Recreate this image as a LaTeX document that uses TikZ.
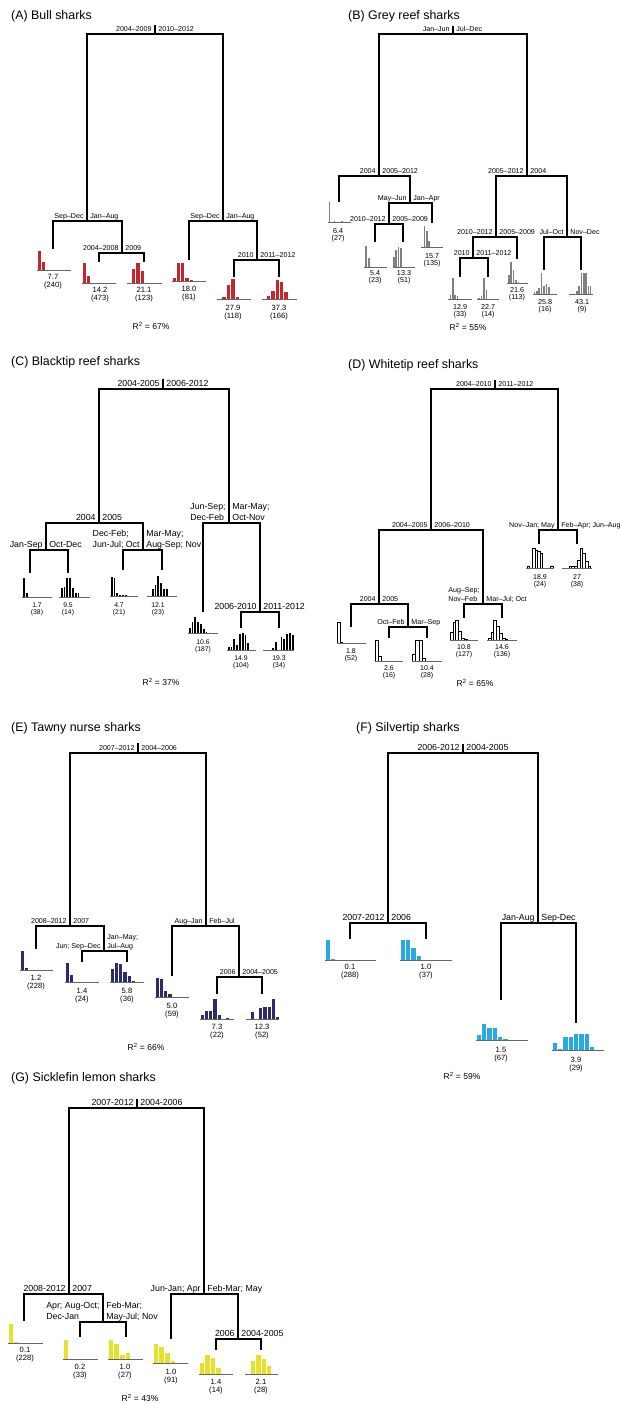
\documentclass[tikz,border=0pt]{standalone}
\usepackage{fontspec}
\setmainfont{Liberation Sans}

\definecolor{bullred}{HTML}{C1272D}
\definecolor{reefgrey}{HTML}{808080}
\definecolor{tawnyblue}{HTML}{2B2A6B}
\definecolor{silverblue}{HTML}{29A9E1}
\definecolor{lemonyellow}{HTML}{E8E12C}

\newcommand{\barfrac}{1}
% histogram: name, baseline left x, baseline y, baseline length, first bar x, bin width, heights
\newcommand{\hist}[7]{%
  \coordinate (#1) at (#2,#3);
  \foreach \h [count=\i from 0] in {#7}{%
    \ifdim\h pt>0pt
      \path[bar] ({#5+\i*#6},#3) rectangle ++({#6*\barfrac},-\h);
    \fi}
  \draw[base] (#1) -- ++(#4,0);
}

\begin{document}
\begin{tikzpicture}[x=1pt, y=-1pt,
    stem/.style={line width=2.5pt},
    lbl/.style={inner sep=0pt, text depth=0pt, align=left, font=\fontsize{7.1}{8.8}\selectfont},
    lbll/.style={lbl, anchor=south east, xshift=-3.2pt, yshift=2.4pt},
    lblr/.style={lbl, anchor=south west, xshift=3.2pt, yshift=2.4pt},
    num/.style={inner sep=0pt, anchor=north, align=center, font=\fontsize{7.6}{8}\selectfont},
    base/.style={line width=0.8pt, black!60},
    bar/.style={fill=black, draw=white, line width=0.4pt},
    title/.style={anchor=west, inner sep=0pt, font=\fontsize{12.4}{14}\selectfont},
    rsq/.style={inner sep=0pt, font=\fontsize{8.5}{10}\selectfont}]
\useasboundingbox (0,0) rectangle (620,1404);

% (A) Bull sharks
\begin{scope}[bar/.append style={fill=bullred}]
  \node[title] (a-title) at (11,16) {(A) Bull sharks};
  \coordinate (a-top) at (155,25);
  \coordinate (a-root) at (155,34);
  \coordinate (a-s1) at (87,221);
  \coordinate (a-s2) at (122,253);
  \coordinate (a-s3) at (223,221);
  \coordinate (a-s4) at (257,260);
  \coordinate (a-l1) at (53,249);
  \coordinate (a-l2) at (99,262);
  \coordinate (a-l3) at (144,262);
  \coordinate (a-l4) at (189,260);
  \coordinate (a-l5) at (234,277);
  \coordinate (a-l6) at (279,277);
  \draw[stem] (a-root) -- (a-top);
  \draw[stem] (a-s1) |- (a-root) -| (a-s3);
  \draw[stem] (a-l1) |- (a-s1) -| (a-s2);
  \draw[stem] (a-l2) |- (a-s2) -| (a-l3);
  \draw[stem] (a-l4) |- (a-s3) -| (a-s4);
  \draw[stem] (a-l5) |- (a-s4) -| (a-l6);
  \node[lbll] (a-t0l) at (a-root) {2004--2009};
  \node[lblr] (a-t0r) at (a-root) {2010--2012};
  \node[lbll] (a-t1l) at (a-s1) {Sep--Dec};
  \node[lblr] (a-t1r) at (a-s1) {Jan--Aug};
  \node[lbll] (a-t2l) at (a-s2) {2004--2008};
  \node[lblr] (a-t2r) at (a-s2) {2009};
  \node[lbll] (a-t3l) at (a-s3) {Sep--Dec};
  \node[lblr] (a-t3r) at (a-s3) {Jan--Aug};
  \node[lbll] (a-t4l) at (a-s4) {2010};
  \node[lblr] (a-t4r) at (a-s4) {2011--2012};
  \hist{a-h1}{37}{270}{34}{37}{4}{20,9}
  \hist{a-h2}{82}{283}{34}{82}{4}{21,8,1}
  \hist{a-h3}{127}{283}{35}{127}{4.3}{0,15,21,13}
  \hist{a-h4}{172}{281}{34}{172}{4.2}{4,19,19,4,2}
  \hist{a-h5}{217}{299}{34}{217}{4.5}{1,3,15,21,3,1}
  \hist{a-h6}{262}{299}{35}{262}{4.3}{0,4,9,20,18,8,1}
  \node[num] (a-n1) at (53,274) {7.7\\(240)};
  \node[num] (a-n2) at (100,287) {14.2\\(473)};
  \node[num] (a-n3) at (144,287) {21.1\\(123)};
  \node[num] (a-n4) at (189,286) {18.0\\(81)};
  \node[num] (a-n5) at (233,305) {27.9\\(118)};
  \node[num] (a-n6) at (279,305) {37.3\\(166)};
  \node[rsq] (a-r2) at (151,326) {R\textsuperscript{2} = 67\%};
\end{scope}

% (B) Grey reef sharks
\begin{scope}[bar/.style={fill=reefgrey}, num/.append style={font=\fontsize{7.2}{7.3}\selectfont}]
  \renewcommand{\barfrac}{0.7}
  \node[title] (b-title) at (348,16) {(B) Grey reef sharks};
  \coordinate (b-top) at (453,26);
  \coordinate (b-root) at (453,34);
  \coordinate (b-s1) at (379,176);
  \coordinate (b-s2) at (410,203);
  \coordinate (b-s3) at (389,224);
  \coordinate (b-s4) at (527,176);
  \coordinate (b-s5) at (496,237);
  \coordinate (b-s6) at (473,258);
  \coordinate (b-s7) at (567,237);
  \coordinate (b-l1) at (339,202);
  \coordinate (b-l2) at (375,242);
  \coordinate (b-l3) at (403,242);
  \coordinate (b-l4) at (432,223);
  \coordinate (b-l5) at (460,277);
  \coordinate (b-l6) at (488,277);
  \coordinate (b-l7) at (517,259);
  \coordinate (b-l8) at (544,270);
  \coordinate (b-l9) at (581,270);
  \draw[stem] (b-root) -- (b-top);
  \draw[stem] (b-s1) |- (b-root) -| (b-s4);
  \draw[stem] (b-l1) |- (b-s1) -| (b-s2);
  \draw[stem] (b-s3) |- (b-s2) -| (b-l4);
  \draw[stem] (b-l2) |- (b-s3) -| (b-l3);
  \draw[stem] (b-s5) |- (b-s4) -| (b-s7);
  \draw[stem] (b-s6) |- (b-s5) -| (b-l7);
  \draw[stem] (b-l5) |- (b-s6) -| (b-l6);
  \draw[stem] (b-l8) |- (b-s7) -| (b-l9);
  \node[lbll] (b-t0l) at (b-root) {Jan--Jun};
  \node[lblr] (b-t0r) at (b-root) {Jul--Dec};
  \node[lbll] (b-t1l) at (b-s1) {2004};
  \node[lblr] (b-t1r) at (b-s1) {2005--2012};
  \node[lbll] (b-t2l) at (b-s2) {May--Jun};
  \node[lblr] (b-t2r) at (b-s2) {Jan--Apr};
  \node[lbll] (b-t3l) at (b-s3) {2010--2012};
  \node[lblr] (b-t3r) at (b-s3) {2005--2009};
  \node[lbll] (b-t4l) at (b-s4) {2005--2012};
  \node[lblr] (b-t4r) at (b-s4) {2004};
  \node[lbll] (b-t5l) at (b-s5) {2010--2012};
  \node[lblr] (b-t5r) at (b-s5) {2005--2009};
  \node[lbll] (b-t6l) at (b-s6) {2010};
  \node[lblr] (b-t6r) at (b-s6) {2011--2012};
  \node[lbll] (b-t7l) at (b-s7) {Jul--Oct};
  \node[lblr] (b-t7r) at (b-s7) {Nov--Dec};
  \hist{b-h1}{328}{222}{23}{328.5}{2.5}{20,0,1,0,0,1}
  \hist{b-h2}{364}{267}{23}{364.5}{3}{21,9}
  \hist{b-h3}{393}{267}{22}{393}{2.4}{10,17,20,19}
  \hist{b-h4}{421}{247}{22}{423.5}{2.4}{21,16,6}
  \hist{b-h5}{448}{299}{24}{449.5}{2.4}{4,21,4,3}
  \hist{b-h6}{477}{299}{22}{478}{2.5}{1,3,21,9}
  \hist{b-h7}{507}{283}{21}{508}{2.4}{8,21,13,3,1}
  \hist{b-h8}{533}{294}{24}{533.5}{2.4}{2,3,6,21,8,10,7}
  \hist{b-h9}{569}{294}{24}{576}{2.3}{3,8,21,21,21,8,8}
  \node[num] (b-n1) at (338,228) {6.4\\(27)};
  \node[num] (b-n2) at (375,270) {5.4\\(23)};
  \node[num] (b-n3) at (404,270) {13.3\\(51)};
  \node[num] (b-n4) at (432,253) {15.7\\(135)};
  \node[num] (b-n5) at (460,304) {12.9\\(33)};
  \node[num] (b-n6) at (488,304) {22.7\\(14)};
  \node[num] (b-n7) at (517,287) {21.6\\(113)};
  \node[num] (b-n8) at (545,299) {25.8\\(16)};
  \node[num] (b-n9) at (582,299) {43.1\\(9)};
  \node[rsq] (b-r2) at (468,327) {R\textsuperscript{2} = 55\%};
\end{scope}

% (C) Blacktip reef sharks
\begin{scope}[lbl/.append style={font=\fontsize{8.8}{10.5}\selectfont},
    num/.append style={font=\fontsize{6.8}{6.6}\selectfont}]
  \node[title] (c-title) at (11,362) {(C) Blacktip reef sharks};
  \coordinate (c-top) at (163,379);
  \coordinate (c-root) at (163,389);
  \coordinate (c-s1) at (99,523);
  \coordinate (c-s2) at (46,550);
  \coordinate (c-s3) at (143,550);
  \coordinate (c-s4) at (229,523);
  \coordinate (c-s5) at (260,612);
  \coordinate (c-l1) at (30,573);
  \coordinate (c-l2) at (68,573);
  \coordinate (c-l3) at (123,570);
  \coordinate (c-l4) at (162,570);
  \coordinate (c-l5) at (203,612);
  \coordinate (c-l6) at (241,628);
  \coordinate (c-l7) at (279,628);
  \draw[stem] (c-root) -- (c-top);
  \draw[stem] (c-s1) |- (c-root) -| (c-s4);
  \draw[stem] (c-s2) |- (c-s1) -| (c-s3);
  \draw[stem] (c-l1) |- (c-s2) -| (c-l2);
  \draw[stem] (c-l3) |- (c-s3) -| (c-l4);
  \draw[stem] (c-l5) |- (c-s4) -| (c-s5);
  \draw[stem] (c-l6) |- (c-s5) -| (c-l7);
  \node[lbll] (c-t0l) at (c-root) {2004-2005};
  \node[lblr] (c-t0r) at (c-root) {2006-2012};
  \node[lbll] (c-t1l) at (c-s1) {2004};
  \node[lblr] (c-t1r) at (c-s1) {2005};
  \node[lbll] (c-t2l) at (c-s2) {Jan-Sep};
  \node[lblr] (c-t2r) at (c-s2) {Oct-Dec};
  \node[lbll] (c-t3l) at (c-s3) {Dec-Feb;\\Jun-Jul; Oct};
  \node[lblr] (c-t3r) at (c-s3) {Mar-May;\\Aug-Sep; Nov};
  \node[lbll] (c-t4l) at (c-s4) {Jun-Sep;\\Dec-Feb};
  \node[lblr] (c-t4r) at (c-s4) {Mar-May;\\Oct-Nov};
  \node[lbll] (c-t5l) at (c-s5) {2006-2010};
  \node[lblr] (c-t5r) at (c-s5) {2011-2012};
  \hist{c-h1}{22}{597}{30}{22}{3.3}{20,5}
  \hist{c-h2}{59}{597}{31}{60}{2.8}{10,11,20,20,10,5,5}
  \hist{c-h3}{110}{596}{28}{110}{2.8}{20,19,4,2,2,2}
  \hist{c-h4}{147}{596}{30}{151}{2.8}{8,12,21,14,8,8}
  \hist{c-h5}{188}{633}{30}{188}{2.8}{6,12,17,12,10,5,2,0,0,1,1}
  \hist{c-h6}{227}{650}{29}{227}{2.8}{4,4,12,6,17,18,16,8}
  \hist{c-h7}{263}{650}{31}{263}{2.8}{1,0,0,3,9,0,14,12,17,18,16}
  \node[num] (c-n1) at (37,603) {1.7\\(38)};
  \node[num] (c-n2) at (68,603) {9.5\\(14)};
  \node[num] (c-n3) at (119,603) {4.7\\(21)};
  \node[num] (c-n4) at (158,603) {12.1\\(23)};
  \node[num] (c-n5) at (203,640) {10.6\\(187)};
  \node[num] (c-n6) at (241,656) {14.9\\(104)};
  \node[num] (c-n7) at (279,656) {19.3\\(34)};
  \node[rsq] (c-r2) at (161,682) {R\textsuperscript{2} = 37\%};
\end{scope}

% (D) Whitetip reef sharks
\begin{scope}[bar/.style={fill=white, draw=black, line width=0.5pt},
    num/.append style={font=\fontsize{7}{7.4}\selectfont}]
  \node[title] (d-title) at (348,365) {(D) Whitetip reef sharks};
  \coordinate (d-top) at (495,380);
  \coordinate (d-root) at (495,389);
  \coordinate (d-s1) at (431,530);
  \coordinate (d-s2) at (379,604);
  \coordinate (d-s3) at (408,627);
  \coordinate (d-s4) at (483,604);
  \coordinate (d-s5) at (558,530);
  \coordinate (d-l1) at (351,627);
  \coordinate (d-l2) at (389,638);
  \coordinate (d-l3) at (427,638);
  \coordinate (d-l4) at (464,618);
  \coordinate (d-l5) at (502,618);
  \coordinate (d-l6) at (539,544);
  \coordinate (d-l7) at (577,544);
  \draw[stem] (d-root) -- (d-top);
  \draw[stem] (d-s1) |- (d-root) -| (d-s5);
  \draw[stem] (d-s2) |- (d-s1) -| (d-s4);
  \draw[stem] (d-l1) |- (d-s2) -| (d-s3);
  \draw[stem] (d-l2) |- (d-s3) -| (d-l3);
  \draw[stem] (d-l4) |- (d-s4) -| (d-l5);
  \draw[stem] (d-l6) |- (d-s5) -| (d-l7);
  \node[lbll] (d-t0l) at (d-root) {2004--2010};
  \node[lblr] (d-t0r) at (d-root) {2011--2012};
  \node[lbll] (d-t1l) at (d-s1) {2004--2005};
  \node[lblr] (d-t1r) at (d-s1) {2006--2010};
  \node[lbll] (d-t2l) at (d-s2) {2004};
  \node[lblr] (d-t2r) at (d-s2) {2005};
  \node[lbll] (d-t3l) at (d-s3) {Oct--Feb};
  \node[lblr] (d-t3r) at (d-s3) {Mar--Sep};
  \node[lbll] (d-t4l) at (d-s4) {Aug--Sep;\\Nov--Feb};
  \node[lblr] (d-t4r) at (d-s4) {Mar--Jul; Oct};
  \node[lbll] (d-t5l) at (d-s5) {Nov--Jan; May};
  \node[lblr] (d-t5r) at (d-s5) {Feb--Apr; Jun--Aug};
  \hist{d-h1}{337}{643}{29}{337}{2.8}{21,1}
  \hist{d-h2}{375}{661}{28}{375}{3.3}{21,5}
  \hist{d-h3}{412}{661}{30}{412}{3.4}{7,21,21,3}
  \hist{d-h4}{450}{640}{28}{450}{2.8}{8,18,20,9,2,1}
  \hist{d-h5}{487}{640}{30}{488}{2.8}{2,8,20,14,7,2,1}
  \hist{d-h6}{526}{568}{28}{527}{2.6}{2,0,20,18,17,15,0,0,0,2}
  \hist{d-h7}{562}{568}{30}{569}{2.7}{2,2,2,8,20,15,7,2}
  \node[num] (d-n1) at (351,648) {1.8\\(52)};
  \node[num] (d-n2) at (389,665) {2.6\\(16)};
  \node[num] (d-n3) at (427,665) {10.4\\(28)};
  \node[num] (d-n4) at (464,644) {10.8\\(127)};
  \node[num] (d-n5) at (502,644) {14.6\\(136)};
  \node[num] (d-n6) at (540,574) {18.9\\(24)};
  \node[num] (d-n7) at (577,574) {27\\(38)};
  \node[rsq] (d-r2) at (475,683) {R\textsuperscript{2} = 65\%};
\end{scope}

% (E) Tawny nurse sharks
\begin{scope}[bar/.append style={fill=tawnyblue}]
  \node[title] (e-title) at (11,728) {(E) Tawny nurse sharks};
  \coordinate (e-top) at (138,743);
  \coordinate (e-root) at (138,753);
  \coordinate (e-s1) at (70,926);
  \coordinate (e-s2) at (104,951);
  \coordinate (e-s3) at (206,926);
  \coordinate (e-s4) at (239,977);
  \coordinate (e-l1) at (36,949);
  \coordinate (e-l2) at (82,962);
  \coordinate (e-l3) at (127,962);
  \coordinate (e-l4) at (172,976);
  \coordinate (e-l5) at (217,994);
  \coordinate (e-l6) at (262,994);
  \draw[stem] (e-root) -- (e-top);
  \draw[stem] (e-s1) |- (e-root) -| (e-s3);
  \draw[stem] (e-l1) |- (e-s1) -| (e-s2);
  \draw[stem] (e-l2) |- (e-s2) -| (e-l3);
  \draw[stem] (e-l4) |- (e-s3) -| (e-s4);
  \draw[stem] (e-l5) |- (e-s4) -| (e-l6);
  \node[lbll] (e-t0l) at (e-root) {2007--2012};
  \node[lblr] (e-t0r) at (e-root) {2004--2006};
  \node[lbll] (e-t1l) at (e-s1) {2008--2012};
  \node[lblr] (e-t1r) at (e-s1) {2007};
  \node[lbll] (e-t2l) at (e-s2) {Jun; Sep--Dec};
  \node[lblr] (e-t2r) at (e-s2) {Jan--May;\\Jul--Aug};
  \node[lbll] (e-t3l) at (e-s3) {Aug--Jan};
  \node[lblr] (e-t3r) at (e-s3) {Feb--Jul};
  \node[lbll] (e-t4l) at (e-s4) {2006};
  \node[lblr] (e-t4r) at (e-s4) {2004--2005};
  \hist{e-h1}{20}{970}{33}{20}{4.2}{20,3}
  \hist{e-h2}{65}{982}{34}{65}{4.2}{20,8,1}
  \hist{e-h3}{110}{982}{34}{110}{4.2}{14,20,19,11,7,2}
  \hist{e-h4}{155}{997}{34}{155}{4.2}{20,19,7,4,1}
  \hist{e-h5}{200}{1019}{34}{200}{4.2}{5,9,9,21,5,0,1.5}
  \hist{e-h6}{246}{1019}{33}{250}{4.2}{8,0,12,13,13,21,3}
  \node[num] (e-n1) at (36,975) {1.2\\(228)};
  \node[num] (e-n2) at (82,988) {1.4\\(24)};
  \node[num] (e-n3) at (127,988) {5.8\\(36)};
  \node[num] (e-n4) at (172,1003) {5.0\\(59)};
  \node[num] (e-n5) at (217,1024) {7.3\\(22)};
  \node[num] (e-n6) at (262,1024) {12.3\\(52)};
  \node[rsq] (e-r2) at (146,1047) {R\textsuperscript{2} = 66\%};
\end{scope}

% (F) Silvertip sharks
\begin{scope}[bar/.append style={fill=silverblue},
    lbl/.append style={font=\fontsize{8.8}{10.5}\selectfont}]
  \node[title] (f-title) at (356,728) {(F) Silvertip sharks};
  \coordinate (f-top) at (463,744);
  \coordinate (f-root) at (463,753);
  \coordinate (f-s1) at (388,923);
  \coordinate (f-s2) at (538,923);
  \coordinate (f-l1) at (350,939);
  \coordinate (f-l2) at (426,939);
  \coordinate (f-l3) at (501,1000);
  \coordinate (f-l4) at (576,1023);
  \draw[stem] (f-root) -- (f-top);
  \draw[stem] (f-s1) |- (f-root) -| (f-s2);
  \draw[stem] (f-l1) |- (f-s1) -| (f-l2);
  \draw[stem] (f-l3) |- (f-s2) -| (f-l4);
  \node[lbll] (f-t0l) at (f-root) {2006-2012};
  \node[lblr] (f-t0r) at (f-root) {2004-2005};
  \node[lbll] (f-t1l) at (f-s1) {2007-2012};
  \node[lblr] (f-t1r) at (f-s1) {2006};
  \node[lbll] (f-t2l) at (f-s2) {Jan-Aug};
  \node[lblr] (f-t2r) at (f-s2) {Sep-Dec};
  \hist{f-h1}{325}{960}{51}{325}{5.2}{21,2,1,1,1}
  \hist{f-h2}{400}{960}{52}{400}{5.3}{21,21,13,5}
  \hist{f-h3}{476}{1040}{52}{476}{5.3}{6,17,13,13,4,2,1,1}
  \hist{f-h4}{552}{1050}{52}{552}{5.3}{8,2,14,14,17,17,17,4}
  \node[num] (f-n1) at (350,964) {0.1\\(288)};
  \node[num] (f-n2) at (426,964) {1.0\\(37)};
  \node[num] (f-n3) at (501,1047) {1.5\\(67)};
  \node[num] (f-n4) at (576,1057) {3.9\\(29)};
  \node[rsq] (f-r2) at (462,1076) {R\textsuperscript{2} = 59\%};
\end{scope}

% (G) Sicklefin lemon sharks
\begin{scope}[bar/.append style={fill=lemonyellow},
    lbl/.append style={font=\fontsize{8.8}{10.5}\selectfont}]
  \node[title] (g-title) at (11,1078) {(G) Sicklefin lemon sharks};
  \coordinate (g-top) at (137,1099);
  \coordinate (g-root) at (137,1108);
  \coordinate (g-s1) at (69,1294);
  \coordinate (g-s2) at (103,1322);
  \coordinate (g-s3) at (204,1294);
  \coordinate (g-s4) at (238,1339);
  \coordinate (g-l1) at (24,1321);
  \coordinate (g-l2) at (80,1337);
  \coordinate (g-l3) at (126,1337);
  \coordinate (g-l4) at (171,1339);
  \coordinate (g-l5) at (216,1350);
  \coordinate (g-l6) at (261,1350);
  \draw[stem] (g-root) -- (g-top);
  \draw[stem] (g-s1) |- (g-root) -| (g-s3);
  \draw[stem] (g-l1) |- (g-s1) -| (g-s2);
  \draw[stem] (g-l2) |- (g-s2) -| (g-l3);
  \draw[stem] (g-l4) |- (g-s3) -| (g-s4);
  \draw[stem] (g-l5) |- (g-s4) -| (g-l6);
  \node[lbll] (g-t0l) at (g-root) {2007-2012};
  \node[lblr] (g-t0r) at (g-root) {2004-2006};
  \node[lbll] (g-t1l) at (g-s1) {2008-2012};
  \node[lblr] (g-t1r) at (g-s1) {2007};
  \node[lbll] (g-t2l) at (g-s2) {Apr; Aug-Oct;\\Dec-Jan};
  \node[lblr] (g-t2r) at (g-s2) {Feb-Mar;\\May-Jul; Nov};
  \node[lbll] (g-t3l) at (g-s3) {Jun-Jan; Apr};
  \node[lblr] (g-t3r) at (g-s3) {Feb-Mar; May};
  \node[lbll] (g-t4l) at (g-s4) {2006};
  \node[lblr] (g-t4r) at (g-s4) {2004-2005};
  \hist{g-h1}{8}{1343}{35}{8}{5}{20,2}
  \hist{g-h2}{63}{1359}{35}{63}{5.5}{20,1}
  \hist{g-h3}{108}{1359}{35}{108}{5.6}{20,16,5,7}
  \hist{g-h4}{153}{1363}{35}{153}{5.6}{20,17,11,3}
  \hist{g-h5}{199}{1374}{34}{199}{5.5}{12,20,17,7}
  \hist{g-h6}{245}{1374}{33}{245}{5.3}{0.5,14,20,16,9,1,1}
  \node[num] (g-n1) at (25,1347) {0.1\\(228)};
  \node[num] (g-n2) at (80,1364) {0.2\\(33)};
  \node[num] (g-n3) at (125,1364) {1.0\\(27)};
  \node[num] (g-n4) at (171,1369) {1.0\\(91)};
  \node[num] (g-n5) at (216,1379) {1.4\\(14)};
  \node[num] (g-n6) at (261,1379) {2.1\\(28)};
  \node[rsq] (g-r2) at (140,1398) {R\textsuperscript{2} = 43\%};
\end{scope}
\end{tikzpicture}
\end{document}
